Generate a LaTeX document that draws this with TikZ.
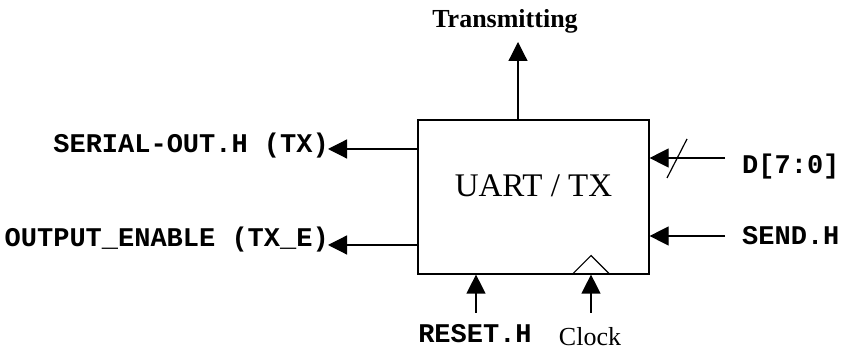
\documentclass[tikz,border=0pt]{standalone}
\usepackage{fontspec}
\setmainfont{Liberation Serif}
\setmonofont{Liberation Mono}
\usetikzlibrary{positioning,arrows.meta,calc}
\tikzset{
  sig/.style={-{Triangle[length=19pt,width=19pt]},line width=1.2pt},
  blk/.style={draw,line width=1.2pt,minimum width=231pt,minimum height=154pt,inner sep=0pt},
  sigtxt/.style={font=\fontsize{27}{30}\selectfont\ttfamily\bfseries,inner sep=0pt},
  lbl/.style={font=\fontsize{26}{30}\selectfont,inner sep=0pt},
  busmk/.style={line width=1.2pt},   % bus slash
}

\begin{document}
\begin{tikzpicture}[x=1pt,y=1pt]
  \useasboundingbox (0,0) rectangle (844,353);
  \node[blk] (uart) at (533.5,156) {};
  \node[font=\fontsize{33}{38}\selectfont,anchor=base] (name) at (uart.center) {UART / TX};
  % outputs
  \node[lbl,anchor=base] (trans) at (505,325) {\bfseries Transmitting};
  \coordinate (txon) at (518,311);
  \draw[sig] (uart.north -| txon) -- (txon);
  \node[sigtxt,anchor=base east] (sout) at (329,200) {SERIAL-OUT.H (TX)};
  \node[sigtxt,anchor=base east] (oen) at (329,106) {OUTPUT\_ENABLE (TX\_E)};
  \coordinate (soutend) at (328,204);
  \coordinate (oenend) at (328,108);
  \draw[sig] (uart.west |- soutend) -- (soutend);
  \draw[sig] (uart.west |- oenend) -- (oenend);
  % inputs
  \node[sigtxt,anchor=base west] (dbus) at (742,179) {D[7:0]};
  \node[sigtxt,anchor=base west] (send) at (742,108) {SEND.H};
  \coordinate (dsrc) at (725,195);
  \coordinate (ssrc) at (725,117);
  \draw[sig] (dsrc) -- (dsrc -| uart.east);
  \draw[sig] (ssrc) -- (ssrc -| uart.east);
  \coordinate (bus) at (677,195);
  \draw[busmk] ($(bus)+(-10,-20)$) -- ($(bus)+(10,19)$);
  \node[sigtxt,anchor=base] (rst) at (475,10) {RESET.H};
  \node[lbl,anchor=base] (clk) at (590,7) {Clock};
  \coordinate (rsrc) at (476,40);
  \coordinate (csrc) at (591,40);
  \draw[sig] (rsrc) -- (rsrc |- uart.south);
  \draw[sig] (csrc) -- (csrc |- uart.south);
  \draw[busmk] ($(csrc |- uart.south)+(-19,0)$) -- ++(19,19) -- ++(19,-19); % clock edge
\end{tikzpicture}
\end{document}
